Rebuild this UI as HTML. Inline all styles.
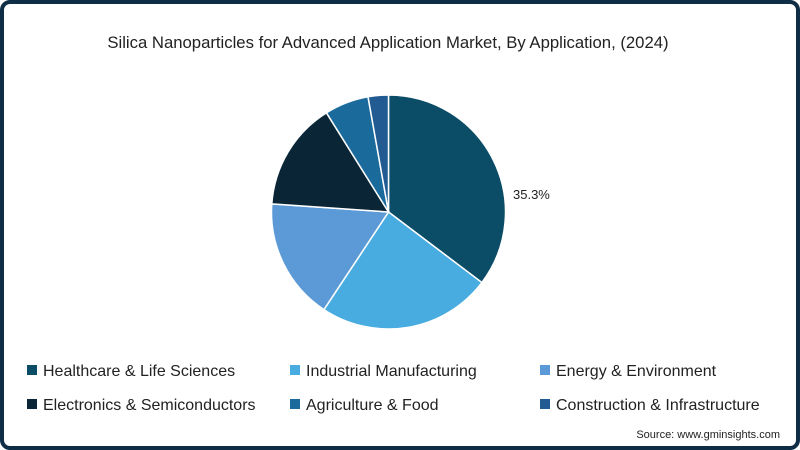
<!DOCTYPE html>
<html><head><meta charset="utf-8"><style>
body{margin:0;width:800px;height:450px;overflow:hidden;background:#fff;font-family:"Liberation Sans",sans-serif}
#frame{position:absolute;left:0;top:0;width:792px;height:442px;border:4px solid #0f2d45;border-radius:10px;background:#fff}
</style></head><body>
<div id="frame"></div>
<svg id="chart" width="800" height="450" style="position:absolute;left:0;top:0">
<text x="388" y="48" text-anchor="middle" font-size="16.7" fill="#222">Silica Nanoparticles for Advanced Application Market, By Application, (2024)</text>
<g id="slices"></g>
<text x="513" y="199" font-size="13" fill="#222">35.3%</text>
<g id="legend"></g>
<text x="780" y="438" text-anchor="end" font-size="11" fill="#222">Source: www.gminsights.com</text>
</svg>
<script>
const categories=["Healthcare & Life Sciences","Industrial Manufacturing","Energy & Environment","Electronics & Semiconductors","Agriculture & Food","Construction & Infrastructure"];
const values=[35.3,24.0,16.8,15.0,6.1,2.8];
const colors=["#0b4d66","#48ace0","#5b9ad6","#0a2636","#1b6a9c","#215b92"];
const ns="http://www.w3.org/2000/svg";
const cx=388.5,cy=212,r=117;
const total=values.reduce((a,b)=>a+b,0);
let a0=0;
const g=document.getElementById('slices');
values.forEach((v,i)=>{
  const a1=a0+v/total*2*Math.PI;
  const x0=cx+r*Math.sin(a0),y0=cy-r*Math.cos(a0),x1=cx+r*Math.sin(a1),y1=cy-r*Math.cos(a1);
  const p=document.createElementNS(ns,'path');
  p.setAttribute('d',`M${cx},${cy}L${x0},${y0}A${r},${r} 0 ${a1-a0>Math.PI?1:0} 1 ${x1},${y1}Z`);
  p.setAttribute('fill',colors[i]);p.setAttribute('stroke','#fff');p.setAttribute('stroke-width','1.5');
  
  
  g.appendChild(p);a0=a1;
});
const lg=document.getElementById('legend');
const lx=[27,290,540],ly=[370,404];
categories.forEach((c,i)=>{
  const x=lx[i%3],y=ly[Math.floor(i/3)];
  const e=document.createElementNS(ns,'g');
  
  
  const s=document.createElementNS(ns,'rect');
  s.setAttribute('x',x);s.setAttribute('y',y-5);s.setAttribute('width',10);s.setAttribute('height',10);s.setAttribute('fill',colors[i]);
  const t=document.createElementNS(ns,'text');
  t.setAttribute('x',x+16);t.setAttribute('y',y+6);t.setAttribute('font-size','16');t.setAttribute('fill','#222');t.textContent=c;
  e.appendChild(s);e.appendChild(t);lg.appendChild(e);
});
</script>
</body></html>
